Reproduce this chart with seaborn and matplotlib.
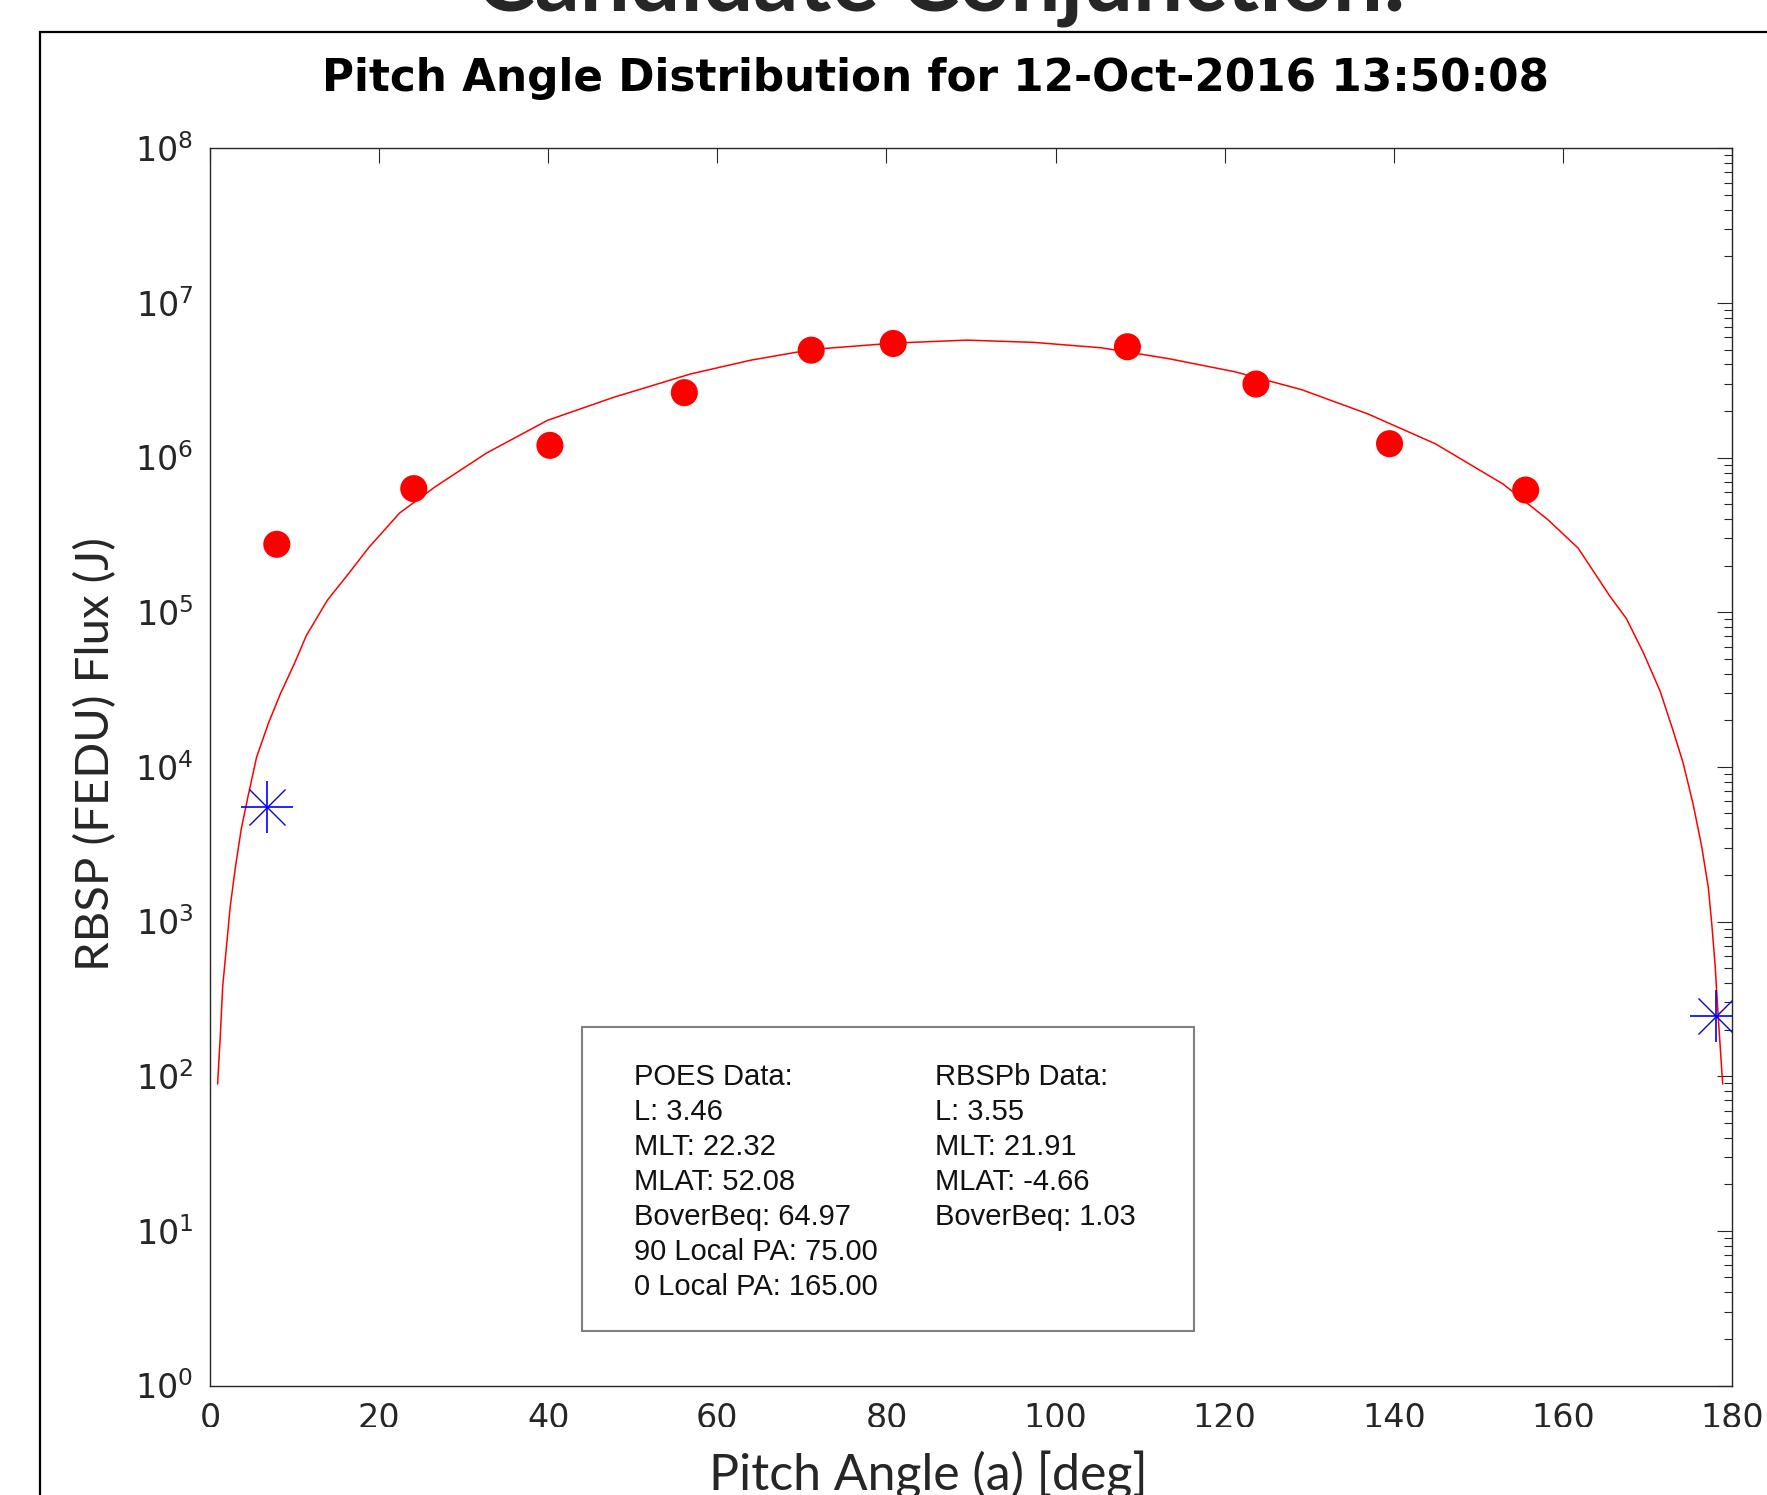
import seaborn as sns
import pandas as pd
import matplotlib.pyplot as plt
from matplotlib.patches import Rectangle
from matplotlib.ticker import LogLocator, NullFormatter, FixedLocator

# RBSP measured flux (red dots)
pitch_deg = [7.9, 24.1, 40.2, 56.1, 71.1, 80.8, 108.5, 123.7, 139.5, 155.6]
flux_rbsp = [2.75e5, 6.3e5, 1.2e6, 2.63e6, 4.95e6, 5.47e6, 5.21e6, 2.99e6, 1.23e6, 6.17e5]

# fitted curve
fit_deg = [0.9, 1.2, 1.5, 1.9, 2.4, 3.0, 3.7, 4.5, 5.5, 6.9, 8.3, 10.0, 11.4, 13.9,
           16.4, 18.8, 22.4, 26.6, 32.7, 39.9, 47.7, 56.8, 64.0, 71.3, 80.9, 89.5,
           97.4, 105.4, 113.3, 121.2, 129.1, 137.0, 144.9, 152.9, 158.2, 161.8, 165.6,
           167.5, 169.5, 171.5, 173.0, 174.2, 175.4, 176.4, 177.2, 177.6, 178.0,
           178.4, 178.9]
fit_flux = [89, 174, 380, 646, 1.26e3, 2.24e3, 3.98e3, 6.46e3, 1.15e4, 1.91e4,
            2.95e4, 4.68e4, 7.08e4, 1.20e5, 1.78e5, 2.63e5, 4.37e5, 6.46e5, 1.07e6,
            1.74e6, 2.45e6, 3.47e6, 4.27e6, 5.01e6, 5.50e6, 5.75e6, 5.56e6, 5.13e6,
            4.37e6, 3.59e6, 2.75e6, 1.91e6, 1.23e6, 6.76e5, 3.98e5, 2.6e5, 1.26e5, 9.12e4,
            5.50e4, 3.09e4, 1.74e4, 1.07e4, 5.75e3, 3.09e3, 1.66e3, 977, 525, 229, 89]

# POES flux mapped to local pitch angle (blue stars)
poes_deg = [6.7, 178.1]
poes_flux = [5.5e3, 245]

poes_info = ["POES Data:", "L: 3.46", "MLT: 22.32", "MLAT: 52.08",
             "BoverBeq: 64.97", "90 Local PA: 75.00", "0 Local PA: 165.00"]
rbsp_info = ["RBSPb Data:", "L: 3.55", "MLT: 21.91", "MLAT: -4.66",
             "BoverBeq: 1.03"]

W, H = 1767, 1495


def fx(px):
    return px / W


def fy(py):
    return 1 - py / H


sns.set_style("white")
plt.rcParams['font.family'] = ['DejaVu Sans']

fig = plt.figure(figsize=(W / 100, H / 100), dpi=100)
ax = fig.add_axes([fx(210), fy(1385.5), fx(1732) - fx(210), fy(148.3) - fy(1385.5)])

dots = pd.DataFrame({'pitch': pitch_deg, 'flux': flux_rbsp})
fit = pd.DataFrame({'pitch': fit_deg, 'flux': fit_flux})
stars = pd.DataFrame({'pitch': poes_deg, 'flux': poes_flux})

sns.lineplot(data=fit, x='pitch', y='flux', color='#ff0000', linewidth=1.1,
             sort=False, estimator=None, ax=ax)
sns.scatterplot(data=dots, x='pitch', y='flux', color='#ff0000', s=380,
                edgecolor='none', ax=ax, zorder=3)
sns.scatterplot(data=stars, x='pitch', y='flux', color='#0000ff', marker='+',
                s=37 ** 2, linewidth=1.2, ax=ax, zorder=4)
sns.scatterplot(data=stars, x='pitch', y='flux', color='#0000ff', marker='x',
                s=26 ** 2, linewidth=1.0, ax=ax, zorder=4)

ax.set_yscale('log')
ax.set_xlim(0, 180)
ax.set_ylim(1, 1e8)
ax.xaxis.set_major_locator(FixedLocator(range(0, 181, 20)))
ax.yaxis.set_major_locator(LogLocator(base=10, numticks=12))
ax.yaxis.set_minor_locator(LogLocator(base=10, subs=range(2, 10), numticks=12))
ax.yaxis.set_minor_formatter(NullFormatter())
ax.set_xlabel('')
ax.set_ylabel('')

axis_col = '#262626'
for sp in ax.spines.values():
    sp.set_color(axis_col)
    sp.set_linewidth(1.0)
ax.tick_params(which='both', direction='in', top=True, right=True,
               color=axis_col, labelcolor=axis_col, width=0.8)
ax.tick_params(which='major', length=10.8, labelsize=24, pad=12)
ax.tick_params(which='minor', length=5.8)

# outer frame of the slide
fig.add_artist(Rectangle((fx(40), fy(1600)), 1.2, fy(32) - fy(1600),
                         transform=fig.transFigure, fill=False,
                         edgecolor='black', linewidth=1.6, zorder=5))

# slide title, cut at the top
fig.text(fx(941), fy(10), 'Candidate Conjunction:', ha='center', va='baseline',
         fontsize=64, fontweight='bold', family=['Lato', 'DejaVu Sans'])

fig.text(fx(935.5), fy(79), 'Pitch Angle Distribution for 12-Oct-2016 13:50:08',
         ha='center', va='center', fontsize=31.5, fontweight='bold', color='black')

fig.text(fx(96), fy(754), 'RBSP (FEDU) Flux (J)', rotation=90, ha='center',
         va='center', fontsize=34, family=['Lato', 'DejaVu Sans'])

# white strip of the slide covering the lower half of x tick labels
fig.add_artist(Rectangle((fx(45), 0), 1.0, fy(1427), transform=fig.transFigure,
                         facecolor='white', edgecolor='none', zorder=6))
fig.text(fx(928), fy(1490), 'Pitch Angle (a) [deg]', ha='center', va='baseline',
         fontsize=36, family=['Lato', 'DejaVu Sans'], zorder=7)

# info box
fig.add_artist(Rectangle((fx(582), fy(1331)), fx(1194) - fx(582), fy(1027) - fy(1331),
                         transform=fig.transFigure, facecolor='white',
                         edgecolor='#7f7f7f', linewidth=1.5, zorder=4))
for i, line in enumerate(poes_info):
    fig.text(fx(634), fy(1085 + 35 * i), line, ha='left', va='baseline',
             fontsize=21, family=['Liberation Sans'], color='#111111', zorder=5)
for i, line in enumerate(rbsp_info):
    fig.text(fx(935), fy(1085 + 35 * i), line, ha='left', va='baseline',
             fontsize=21, family=['Liberation Sans'], color='#111111', zorder=5)

fig.savefig('out.png', dpi=100)
